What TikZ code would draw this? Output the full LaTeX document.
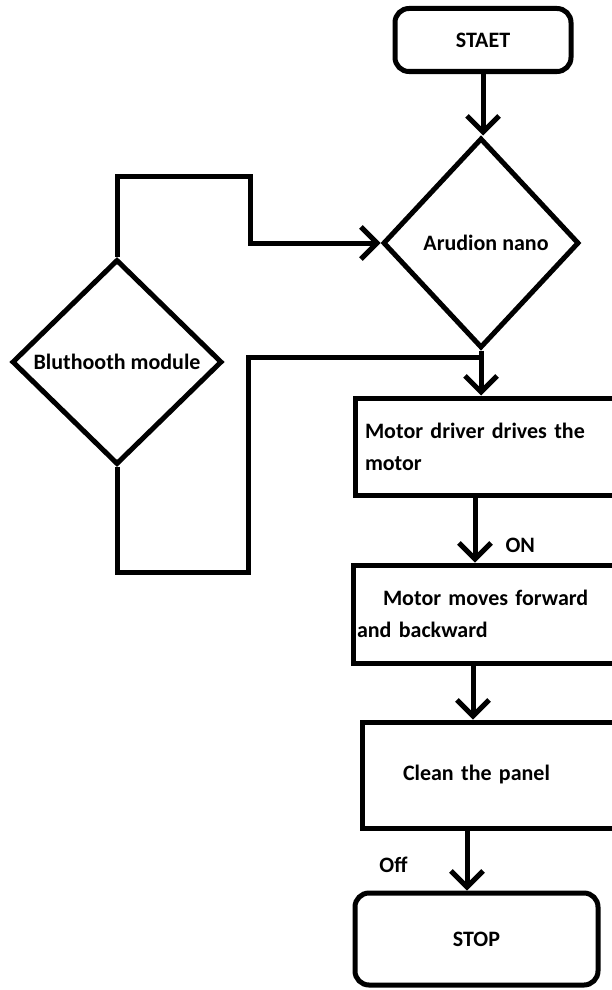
\documentclass[tikz,border=0pt]{standalone}
\usepackage{fontspec}
\setmainfont{Carlito}
\usetikzlibrary{arrows.meta,positioning,shapes.geometric}
\newcommand{\fcfont}{\fontsize{22}{32}\selectfont\bfseries}
\tikzset{
  fcterm/.style={draw,line width=5pt,rounded corners=14pt,align=center,font=\fcfont},
  fcbox/.style={draw,line width=5pt,align=left,font=\fcfont,inner ysep=0pt},
  fcdec/.style={draw,diamond,line width=5pt,inner sep=0pt,align=center,font=\fcfont},
  fcflow/.style={line width=5pt,-{Straight Barb[length=16pt,width=32pt]}},
  fcline/.style={line width=5pt},
  fclabel/.style={font=\fcfont,inner sep=0pt},
}

\begin{document}
\begin{tikzpicture}[x=1pt,y=-1pt]
\path[use as bounding box,clip] (0,0) rectangle (612,990);
\node[fcterm,minimum width=176pt,minimum height=63pt] (start) at (483,40) {STAET};
\node[fcdec,minimum width=196pt,minimum height=210pt] (ard) at (481,243) {\hspace*{10pt}Arudion nano};
\node[fcdec,minimum width=210pt,minimum height=205pt] (bt) at (117,362) {Bluthooth module};
\draw[fcflow] (start.south) -- (start.south |- ard.north);
% bluetooth link to the board
\coordinate (j1) at (250,176);
\draw[fcflow] (bt.north) |- (j1) |- (ard.west);
\coordinate (j2) at (248,572);
\coordinate (j3) at (481,357);
\draw[fcline] (bt.south) |- (j2) |- (j3);
\node[fcbox,text width=245pt,inner xsep=10pt,minimum height=97pt] (drv) at (487.5,446.5) {Motor driver drives the\\motor};
\draw[fcflow] (ard.south) -- (ard.south |- drv.north);
\node[fcbox,text width=259pt,inner xsep=4pt,minimum height=98pt] (mov) at (486.5,614) {\hspace*{26pt}Motor moves forward\\and backward};
\draw[fcflow] ([xshift=-12.5pt]drv.south) -- node[fclabel,pos=0.73,right=28pt]{ON} ([xshift=-12.5pt]drv.south |- mov.north);
\node[fcbox,text width=176pt,inner xsep=41pt,minimum height=106pt] (clean) at (491,775) {Clean the panel};
\draw[fcflow] ([xshift=-13.5pt]mov.south) -- ([xshift=-13.5pt]mov.south |- clean.north);
\node[fcterm,minimum width=243pt,minimum height=92pt] (stop) at (476.5,939) {STOP};
\draw[fcflow] ([xshift=-24pt]clean.south) -- node[fclabel,pos=0.58,left=57pt]{Off} ([xshift=-24pt]clean.south |- stop.north);
\end{tikzpicture}
\end{document}
